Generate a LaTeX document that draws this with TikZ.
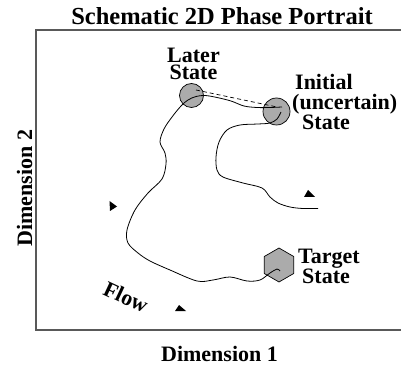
\documentclass[tikz,border=0pt]{standalone}
\usepackage{fontspec}
\setmainfont{Liberation Serif}
\usetikzlibrary{shapes.geometric}
\begin{document}
\begin{tikzpicture}[x=1pt, y=-1pt,
    lbl/.style={font=\fontsize{22}{17}\selectfont\bfseries, inner sep=0pt},
    state/.style={circle, draw, fill=black!33, inner sep=0pt, line width=0.7pt},
    traj/.style={line width=0.8pt}]
\useasboundingbox (0,0) rectangle (401,371);
% frame
\draw [black!65, line width=1.2pt] (401,30) -- (36,30) -- (36,330) -- (401,330);
% texts
\node [lbl, font=\fontsize{24.5}{26}\selectfont\bfseries, anchor=base] (title) at (222,25) {Schematic 2D Phase Portrait};
\node [lbl, anchor=base] (xlab) at (219.5,361) {Dimension 1};
\node [lbl, anchor=base, rotate=90] (ylab) at (32,188) {Dimension 2};
\node [lbl, anchor=base, align=center] (laterlab) at (193.5,80) {Later\\State};
\node [lbl, anchor=base west, align=left, font=\fontsize{22}{20}\selectfont\bfseries]
    (initlab) at (292,130) {\hspace{3pt}Initial\\(uncertain)\\\hspace{10pt}State};
\node [lbl, anchor=base west, align=left] (targetlab) at (298,283.5) {Target\\\hspace{4pt}State};
\node [lbl, rotate=-25] (flowlab) at (126,297) {Flow};
% states
\node [state, minimum size=24pt] (later) at (191.5,95.5) {};
\node [state, minimum size=27pt] (init) at (276.5,111.5) {};
\node [state, regular polygon, regular polygon sides=6, shape border rotate=30,
       minimum size=34pt] (target) at (279,265) {};
% trajectories
\draw [traj] plot [smooth, tension=0.55] coordinates {(282,107) (270,107.5) (257,107.5)
    (244,106) (231,101) (217,97.5) (205,95.5) (196,96.5) (188,100) (181,106) (172,117)
    (164,129) (160,142) (165,153) (166,164) (162,179) (148,193) (135,210) (127,230)
    (128,243) (138,253) (150,261) (170,270) (197,281) (213,280) (230,277) (247,281)
    (260,280) (270,273) (277,269) (280,271)};
\draw [traj] plot [smooth, tension=0.55] coordinates {(281,112) (277,119) (270,123)
    (258,124) (240,125) (227,130) (219,142) (216,157) (217,170) (223,177) (243,183)
    (262,188) (270,197) (278,203) (290,207) (303,208.5) (318,208.5)};
\draw [dashed, dash pattern=on 4pt off 3pt, line width=0.7pt] (196,90) -- (277,107);
% flow tips
\fill (109.5,201) -- (110,211) -- (117,206.5) -- cycle;
\fill (175,311) -- (179,305) -- (186,311) -- cycle;
\fill (304,197) -- (308,190) -- (315,197) -- cycle;
\end{tikzpicture}
\end{document}
